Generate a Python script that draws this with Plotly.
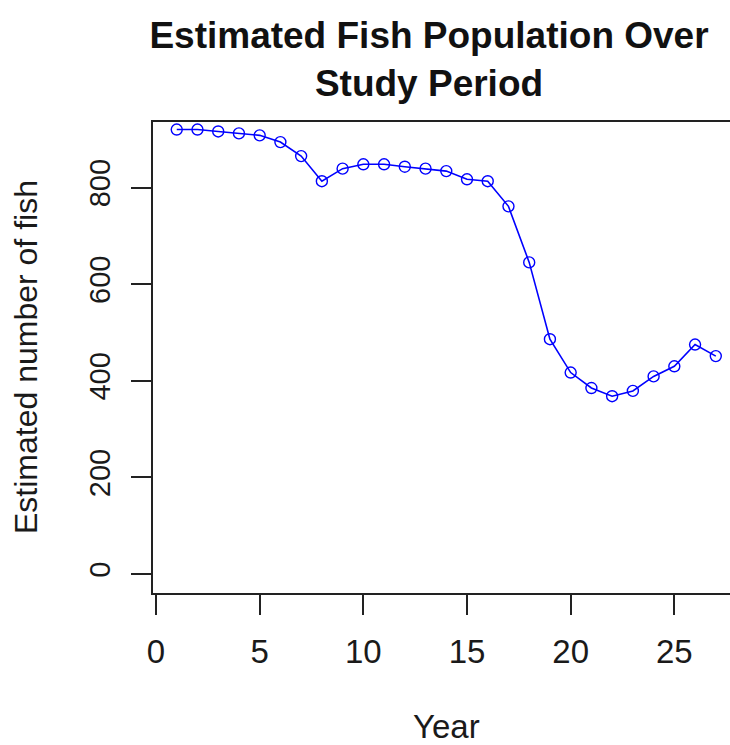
import plotly.graph_objects as go

years = list(range(1, 28))
fish = [920, 920, 916, 912, 908, 894, 865, 813, 839, 848, 848, 843, 839, 834,
        817, 813, 761, 645, 486, 417, 385, 368, 379, 409, 430, 475, 451]
x_ticks = [0, 5, 10, 15, 20, 25]
y_ticks = [0, 200, 400, 600, 800]

FONT = "Liberation Sans, Arial, sans-serif"

fig = go.Figure()
fig.add_trace(go.Scatter(
    x=years, y=fish, mode="lines+markers",
    line=dict(color="#0000FF", width=1.6),
    marker=dict(symbol="circle-open", size=11, color="#0000FF", line=dict(width=1.4)),
    showlegend=False,
))

L, T, B = 153, 122, 152
fig.update_layout(
    width=730, height=745,
    margin=dict(l=L, r=0, t=T, b=B),
    paper_bgcolor="white", plot_bgcolor="white",
    font=dict(family=FONT, color="#111111"),
    title=dict(
        text="<b>Estimated Fish Population Over<br>Study Period</b>",
        font=dict(family=FONT, size=37, color="#111111"),
        x=429 / 730, xanchor="center", xref="container",
        y=1 - 48 / 745, yanchor="middle", yref="container",
    ),
    xaxis=dict(
        range=[-0.145, 27.685], tickvals=x_ticks, ticktext=[str(v) for v in x_ticks],
        showgrid=False, zeroline=False,
        showline=True, linecolor="#222222", linewidth=2, mirror=True,
        ticks="outside", ticklen=20, tickwidth=2, tickcolor="#222222",
        tickfont=dict(family=FONT, size=33, color="#1a1a1a"),
        ticklabelstandoff=8,
    ),
    yaxis=dict(
        range=[-39.3, 935.6], tickvals=y_ticks, ticktext=[str(v) for v in y_ticks],
        showgrid=False, zeroline=False,
        showline=True, linecolor="#222222", linewidth=2, mirror=False,
        ticks="outside", ticklen=20, tickwidth=2, tickcolor="#222222",
        tickangle=-90,
        tickfont=dict(family=FONT, size=29, color="#1a1a1a"),
        ticklabelstandoff=9,
    ),
)

W = 730 - L
H = 745 - T - B
def px(xp):
    return (xp - L) / W
def py(yp):
    return (745 - B - yp) / H

fig.add_annotation(text="Year", x=px(446), y=py(726), xref="paper", yref="paper",
                   showarrow=False, xanchor="center", yanchor="middle",
                   font=dict(family=FONT, size=33, color="#1a1a1a"))
fig.add_annotation(text="Estimated number of fish", x=px(26), y=py(357),
                   xref="paper", yref="paper", textangle=-90,
                   showarrow=False, xanchor="center", yanchor="middle",
                   font=dict(family=FONT, size=32, color="#1a1a1a"))

fig.write_html(
    "out.html",
    config={"displayModeBar": False},
    post_script="document.body.style.margin='0';document.body.style.overflow='hidden';",
)
